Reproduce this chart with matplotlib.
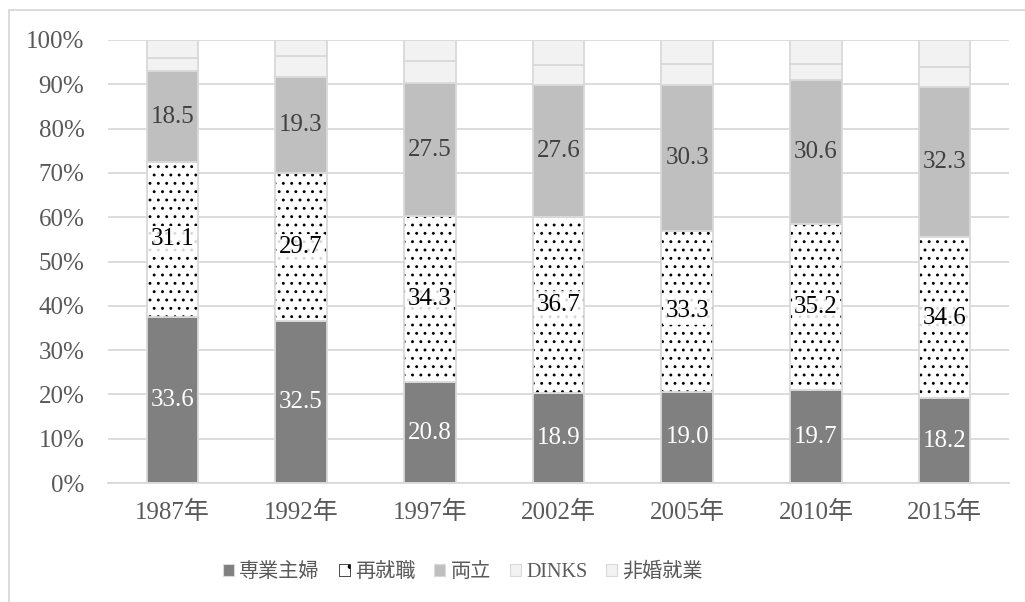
import matplotlib
matplotlib.use("Agg")
import matplotlib.pyplot as plt
from matplotlib.patches import Patch, Rectangle
import numpy as np

plt.rcParams['font.family'] = ['Liberation Serif', 'Noto Sans CJK JP']
plt.rcParams['hatch.linewidth'] = 0.9

years = ['1987年', '1992年', '1997年', '2002年', '2005年', '2010年', '2015年']
series_names = ['専業主婦', '再就職', '両立', 'DINKS', '非婚就業']
sengyo = [33.6, 32.5, 20.8, 18.9, 19.0, 19.7, 18.2]
saishu = [31.1, 29.7, 34.3, 36.7, 33.3, 35.2, 34.6]
ryoritsu = [18.5, 19.3, 27.5, 27.6, 30.3, 30.6, 32.3]
dinks = [2.5, 4.3, 4.5, 4.2, 4.4, 3.4, 4.3]
hikon = [3.7, 3.2, 4.4, 5.3, 5.0, 5.0, 5.8]

W, H = 1025, 602
fig = plt.figure(figsize=(W / 100, H / 100), dpi=100)
ax = fig.add_axes([108 / W, 1 - 483 / H, 901 / W, 443 / H])

data = np.array([sengyo, saishu, ryoritsu, dinks, hikon], dtype=float)
pct = data / data.sum(axis=0) * 100
x = np.arange(len(years))
bw = 0.40
edge = '#d9d9d9'
fills = ['#808080', 'white', '#bfbfbf', '#f2f2f2', '#f2f2f2']

bottom = np.zeros(len(years))
for i in range(5):
    if i == 1:
        ax.bar(x, pct[i], bw, bottom=bottom, color='white', edgecolor='black',
               linewidth=0, hatch='..', zorder=2)
        ax.bar(x, pct[i], bw, bottom=bottom, fill=False, edgecolor=edge,
               linewidth=1.3, zorder=3)
    else:
        ax.bar(x, pct[i], bw, bottom=bottom, color=fills[i], edgecolor=edge,
               linewidth=1.3, zorder=2)
    if i < 3:
        for xi, b, h, v in zip(x, bottom, pct[i], data[i]):
            kw = dict(ha='center', va='center', fontsize=18, zorder=5)
            if i == 0:
                ax.text(xi, b + h / 2, f'{v:.1f}', color='white', **kw)
            elif i == 1:
                ax.text(xi, b + h / 2, f'{v:.1f}', color='black',
                        bbox=dict(boxstyle='square,pad=0.1', facecolor='white',
                                  edgecolor='none', alpha=0.85), **kw)
            else:
                ax.text(xi, b + h / 2, f'{v:.1f}', color='#404040', **kw)
    bottom += pct[i]

ax.set_xlim(-0.5, len(years) - 0.5)
ax.set_ylim(0, 100)
ax.set_yticks(np.arange(0, 101, 10))
ax.set_yticklabels([f'{v}%' for v in range(0, 101, 10)])
ax.set_xticks(x)
ax.set_xticklabels(years)
ax.tick_params(axis='both', length=0, labelsize=18, colors='#595959')
ax.tick_params(axis='y', pad=17)
ax.tick_params(axis='x', pad=13)
ax.yaxis.grid(True, color=edge, linewidth=1.3, zorder=0)
ax.set_axisbelow(True)
for s in ['top', 'right', 'left']:
    ax.spines[s].set_visible(False)
ax.spines['bottom'].set_color(edge)
ax.spines['bottom'].set_linewidth(1.3)

handles = [
    Patch(facecolor=fills[0], edgecolor=edge, linewidth=0.8),
    Patch(facecolor='white', edgecolor='black', hatch='.', linewidth=0.5),
    Patch(facecolor=fills[2], edgecolor=edge, linewidth=0.8),
    Patch(facecolor=fills[3], edgecolor=edge, linewidth=0.8),
    Patch(facecolor=fills[4], edgecolor=edge, linewidth=0.8),
]
leg = fig.legend(handles, series_names, loc='center', ncol=5,
                 bbox_to_anchor=(463 / W, 1 - 572 / H), frameon=False,
                 fontsize=14.5, handlelength=0.55, handleheight=0.55,
                 handletextpad=0.25, columnspacing=0.95, borderpad=0)
for t in leg.get_texts():
    t.set_color('#595959')

fig.patches.append(Rectangle((9 / W, -0.05), 1.2, 1 - 10 / H + 0.05,
                             transform=fig.transFigure, fill=False,
                             edgecolor=edge, linewidth=1.3))

fig.savefig('out.png', dpi=100)
